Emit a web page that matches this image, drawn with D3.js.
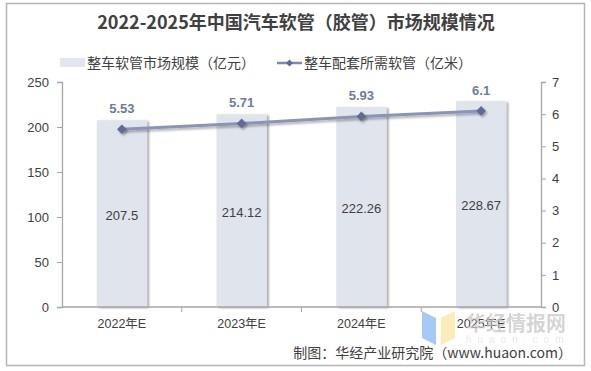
<!DOCTYPE html>
<html><head><meta charset="utf-8">
<script src="https://cdn.jsdelivr.net/npm/d3@7/dist/d3.min.js"></script>
<style>
body{margin:0;background:#fff;}
svg{display:block;font-family:"Liberation Sans",Arial,"Noto Sans CJK SC",sans-serif;}
</style></head>
<body>
<svg id="c" width="591" height="371"></svg>
<script>
const categories = ["2022年E","2023年E","2024年E","2025年E"];
const marketSize = [207.5, 214.12, 222.26, 228.67];
const hoseLength = [5.53, 5.71, 5.93, 6.1];
const leftTicks = [0,50,100,150,200,250];
const rightTicks = [0,1,2,3,4,5,6,7];
const titleText = "2022-2025年中国汽车软管（胶管）市场规模情况";
const seriesNames = ["整车软管市场规模（亿元）","整车配套所需软管（亿米）"];
const sourceText = "制图：华经产业研究院（www.huaon.com）";

const svg = d3.select("#c");
const m = {l:62, r:541, t:82, b:307};
const x = d3.scaleBand().domain(categories).range([m.l, m.r]).paddingInner(0.58).paddingOuter(0.29);
const yL = d3.scaleLinear().domain([0,250]).range([m.b, m.t]);
const yR = d3.scaleLinear().domain([0,7]).range([m.b, m.t]);

const defs = svg.append("defs");
const f = defs.append("filter").attr("id","sh").attr("x","-20%").attr("y","-20%").attr("width","150%").attr("height","140%");
f.append("feDropShadow").attr("dx",2).attr("dy",1).attr("stdDeviation",1.2).attr("flood-color","#000").attr("flood-opacity",0.35);
const f2 = defs.append("filter").attr("id","sh2").attr("x","-20%").attr("y","-50%").attr("width","140%").attr("height","250%");
f2.append("feDropShadow").attr("dx",1.5).attr("dy",2).attr("stdDeviation",1.2).attr("flood-color","#000").attr("flood-opacity",0.3);

// border
svg.append("rect").attr("x",6.5).attr("y",3.5).attr("width",578).attr("height",362)
  .attr("fill","none").attr("stroke","#b4b4b4").attr("stroke-width",1.5);

// title
svg.append("text").attr("x",296).attr("y",29).attr("text-anchor","middle")
  .attr("font-family","'Noto Sans CJK SC',sans-serif").attr("font-weight","bold").attr("font-size",18)
  .attr("fill","#404040").text(titleText);

// legend
const lg = svg.append("g").attr("font-family","'Noto Sans CJK SC',sans-serif").attr("font-size",14).attr("fill","#404040");
lg.append("rect").attr("x",60).attr("y",58).attr("width",25).attr("height",9).attr("fill","#e3e6ee");
lg.append("text").attr("x",87).attr("y",68).text(seriesNames[0]);
lg.append("line").attr("x1",277).attr("x2",302).attr("y1",63).attr("y2",63).attr("stroke","#7d88ab").attr("stroke-width",2.5);
lg.append("path").attr("d",d3.symbol(d3.symbolDiamond2,30)()).attr("transform","translate(289.5,63)").attr("fill","#5f6b95");
lg.append("text").attr("x",304).attr("y",68).text(seriesNames[1]);

// bars
svg.append("g").selectAll("rect").data(marketSize).join("rect")
  .attr("x",(d,i)=>x(categories[i])).attr("width",x.bandwidth())
  .attr("y",d=>yL(d)).attr("height",d=>yL(0)-yL(d))
  .attr("fill","#e0e4ed").attr("filter","url(#sh)");

// bar labels
svg.append("g").selectAll("text").data(marketSize).join("text")
  .attr("x",(d,i)=>x(categories[i])+x.bandwidth()/2)
  .attr("y",d=>(yL(d)+yL(0))/2+6)
  .attr("text-anchor","middle").attr("font-size",13).attr("fill","#404040")
  .text(d=>d);

// axes
const axL = svg.append("g").attr("transform",`translate(${m.l},0)`)
  .call(d3.axisLeft(yL).tickValues(leftTicks).tickSize(5).tickPadding(8));
const axR = svg.append("g").attr("transform",`translate(${m.r},0)`)
  .call(d3.axisRight(yR).tickValues(rightTicks).tickFormat(d3.format("d")).tickSize(5).tickPadding(6));
const axX = svg.append("g").attr("transform",`translate(0,${m.b})`)
  .call(d3.axisBottom(x).tickSize(0).tickPadding(12));
[axL,axR,axX].forEach(a=>{
  a.selectAll("path.domain").attr("stroke","#a6a6a6").attr("stroke-width",1.3);
  a.selectAll(".tick line").attr("stroke","#a6a6a6");
  a.selectAll("text").attr("font-size",13).attr("fill","#404040").attr("font-family","'Liberation Sans',Arial,'Noto Sans CJK SC',sans-serif");
});
axX.selectAll("text").attr("font-size",12.5);
axX.select("path.domain").attr("d",`M${m.l},0H${m.r}`);
// category separators on x axis
const bounds = categories.map(c=>x(c)-x.step()*x.paddingInner()/2).slice(1);
axX.selectAll("line.sep").data(bounds).join("line").attr("class","sep")
  .attr("x1",d=>d).attr("x2",d=>d).attr("y1",0).attr("y2",5).attr("stroke","#a6a6a6");

// line series
const cx = (d,i)=>x(categories[i])+x.bandwidth()/2;
const line = d3.line().x(cx).y(d=>yR(d));
svg.append("path").datum(hoseLength).attr("d",line).attr("fill","none")
  .attr("stroke","#8a94b4").attr("stroke-width",3).attr("filter","url(#sh2)");
svg.append("g").selectAll("path").data(hoseLength).join("path")
  .attr("d",d3.symbol(d3.symbolDiamond2,60)())
  .attr("transform",(d,i)=>`translate(${cx(d,i)},${yR(d)})`)
  .attr("fill","#5f6b95").attr("filter","url(#sh2)");
svg.append("g").selectAll("text").data(hoseLength).join("text")
  .attr("x",(d,i)=>cx(d,i)).attr("y",d=>yR(d)-16)
  .attr("text-anchor","middle").attr("font-size",13).attr("font-weight","bold").attr("fill","#6e7aa3")
  .text(d=>d);

// watermark (logo drawn as shapes, brand name kept as faint text)
const wm = svg.append("g").attr("opacity",0.75);
wm.append("path").attr("d","M422,311 L436,318 L436,345 L422,338 Z").attr("fill","#8ab8f2");
wm.append("path").attr("d","M455,311 L441,318 L441,345 L455,338 Z").attr("fill","#fbe6a0");
wm.append("text").attr("x",466).attr("y",331).attr("font-family","'Noto Sans CJK SC',sans-serif")
  .attr("font-weight","bold").attr("font-size",20).attr("fill","#c8c8c8").text("华经情报网");
wm.append("text").attr("x",466).attr("y",343).attr("font-size",10).attr("letter-spacing",6).attr("fill","#e2e2e2").text("huaon.com");

// source
svg.append("text").attr("x",572).attr("y",358).attr("text-anchor","end")
  .attr("font-family","'Noto Sans CJK SC',sans-serif").attr("font-size",14).attr("fill","#404040").text(sourceText);
</script>
</body></html>
